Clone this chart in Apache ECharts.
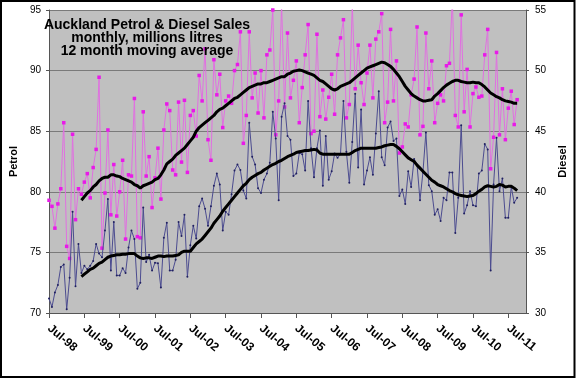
<!DOCTYPE html>
<html>
<head>
<meta charset="utf-8">
<script src="https://cdn.jsdelivr.net/npm/echarts@6/dist/echarts.min.js"></script>
<style>
html,body{margin:0;padding:0;background:#fff;}
#chart{width:576px;height:379px;}
</style>
</head>
<body>
<div id="chart"></div>
<script>
// Month categories Jul-98 ... (monthly); tick labels shown every July
const monthNames = ['Jul','Aug','Sep','Oct','Nov','Dec','Jan','Feb','Mar','Apr','May','Jun'];
const xTickLabels = ['Jul-98','Jul-99','Jul-00','Jul-01','Jul-02','Jul-03','Jul-04','Jul-05','Jul-06','Jul-07','Jul-08','Jul-09','Jul-10','Jul-11'];
const categoryCount = 163;

// Petrol, monthly, millions litres (left axis)
const petrol = [79.3,78.8,77.0,79.0,80.25,85.7,75.5,74.5,84.75,77.7,80.25,79.8,80.8,81.5,79.5,82.0,83.5,89.45,75.35,79.9,
85.1,78.1,82.25,78.0,80.0,82.6,76.1,81.4,81.3,87.7,76.3,76.2,86.6,81.3,82.9,78.7,81.15,83.6,79.4,85.1,
87.25,86.7,81.8,81.4,87.4,82.45,87.55,81.6,86.3,86.7,84.6,89.6,87.5,91.8,84.3,82.6,90.9,
88.0,89.7,85.3,87.5,87.9,87.3,90.0,90.5,93.2,84.0,86.3,93.2,87.75,89.8,86.5,90.0,86.1,91.3,91.7,95.0,
84.7,87.5,95.5,87.0,93.1,87.75,89.2,90.8,85.7,88.6,91.3,93.8,84.8,85.0,93.0,86.2,88.4,86.0,87.8,89.7,
86.4,91.3,92.7,94.2,86.1,87.2,95.5,88.5,92.1,89.0,
87.2,89.8,92.1,87.75,92.6,93.2,94.7,85.7,87.4,93.4,87.5,90.8,83.2,83.7,85.6,85.35,88.0,89.3,93.6,84.7,
85.4,93.1,88.5,90.8,85.7,87.3,88.0,87.5,90.4,90.6,96.0,86.3,85.35,94.6,86.6,90.1,85.35,88.1,88.65,87.8,
87.9,91.3,93.4,81.9,84.5,91.5,84.7,88.5,84.3,86.9,88.3,85.55,87.6];

// Diesel, monthly, millions litres (right axis)
const diesel = [31.2,30.5,31.7,32.3,33.8,34.0,30.3,32.9,38.35,32.2,35.7,33.3,33.9,33.6,33.9,34.3,35.7,34.9,34.6,36.8,
39.4,33.5,37.5,33.1,33.1,33.7,33.3,35.4,36.8,36.1,32.0,32.5,38.7,34.2,34.8,33.5,34.15,34.1,32.1,36.2,
37.45,33.5,33.5,34.4,37.5,36.35,38.1,33.0,35.6,37.2,36.15,38.8,39.45,38.6,37.2,38.8,40.5,
41.5,40.6,36.8,38.35,38.1,39.8,41.75,42.25,41.8,40.1,39.45,45.7,42.9,42.25,40.3,39.9,41.0,41.5,42.4,46.6,
44.4,39.3,46.2,47.3,44.6,44.3,41.3,41.5,43.2,43.1,41.75,47.5,43.6,41.2,43.6,45.05,40.5,44.6,41.0,41.7,
43.15,42.8,43.1,47.5,43.3,40.75,44.1,48.1,42.0,46.8,40.6,41.75,42.85,41.4,
44.8,48.3,42.85,42.2,45.3,45.8,44.2,44.4,39.65,40.2,39.0,41.7,40.4,42.7,42.25,39.3,41.6,44.9,40.55,40.05,
38.1,38.55,37.6,39.5,39.3,41.6,41.6,36.6,39.5,45.5,38.2,38.9,40.05,38.9,38.8,41.5,41.75,43.95,43.5,33.5,
40.6,44.45,40.05,41.1,37.85,37.85,40.4,39.1,39.5];

// 12 month moving averages (from month 12 onward)
const maStart = 11;
const petrolMAValues = [79.3,79.6,79.9,80.1,80.4,80.6,80.9,81.1,81.2,81.2,
81.4,81.4,81.3,81.25,81.1,81.0,80.9,80.8,80.6,80.5,
80.3,80.5,80.6,80.7,80.8,81.0,81.1,81.4,81.8,82.3,
82.5,82.7,83.0,83.2,83.4,83.6,83.9,84.2,84.5,85.0,
85.3,85.5,85.7,85.9,86.1,86.3,86.6,86.8,86.9,87.1,
87.3,87.5,87.7,87.8,88.0,88.2,88.4,88.6,88.7,88.8,
88.9,88.9,89.0,89.0,89.1,89.2,89.3,89.4,89.5,89.5,
89.7,89.8,89.95,90.0,90.05,90.0,89.9,89.8,89.7,89.6,
89.4,89.2,89.1,88.9,88.7,88.5,88.4,88.5,88.7,88.8,
88.9,89.0,89.2,89.4,89.6,89.8,90.0,90.2,90.3,90.4,
90.5,90.6,90.7,90.65,90.5,90.35,90.1,89.8,89.5,89.1,
88.7,88.4,88.1,87.9,87.75,87.6,87.5,87.5,87.55,87.6,
87.9,88.1,88.35,88.6,88.8,88.95,89.1,89.2,89.2,89.1,
89.05,89.0,89.0,89.05,89.0,89.0,88.85,88.65,88.4,88.15,
88.0,87.85,87.75,87.6,87.5,87.45,87.4,87.3,87.3];
const dieselMAValues = [33.0,33.2,33.4,33.6,33.7,33.9,34.1,34.2,34.4,34.6,
34.7,34.75,34.8,34.8,34.85,34.85,34.9,34.9,34.9,34.7,
34.55,34.5,34.55,34.55,34.5,34.6,34.7,34.7,34.65,34.7,
34.7,34.7,34.75,34.8,35.0,35.1,35.1,35.1,35.4,35.7,
35.9,36.1,36.4,36.7,37.0,37.4,37.7,38.0,38.4,38.7,
39.0,39.3,39.6,39.9,40.2,40.5,40.7,41.0,41.2,41.35,
41.5,41.6,41.8,41.95,42.1,42.25,42.35,42.5,42.6,42.75,
42.9,43.0,43.1,43.25,43.3,43.35,43.4,43.4,43.45,43.5,
43.45,43.2,43.1,43.1,43.1,43.1,43.1,43.1,43.1,43.1,
43.1,43.1,43.25,43.4,43.5,43.6,43.6,43.6,43.6,43.6,
43.6,43.65,43.7,43.8,43.85,43.9,43.9,43.75,43.55,43.3,
43.05,42.8,42.65,42.5,42.2,41.95,41.7,41.45,41.2,40.95,
40.8,40.6,40.5,40.4,40.25,40.1,40.0,39.85,39.75,39.7,
39.65,39.6,39.65,39.7,39.85,40.05,40.2,40.4,40.5,40.45,
40.4,40.45,40.6,40.55,40.4,40.45,40.45,40.3,40.1];

const titleLines = ['Auckland Petrol & Diesel Sales','monthly, millions litres','12 month moving average'];

// ---- build ----
const categories = [];
for (let i = 0; i < categoryCount; i++) {
  const yr = 1998 + Math.floor((i + 6) / 12);
  categories.push(monthNames[i % 12] + '-' + String(yr % 100).padStart(2, '0'));
}
const petrolMA = new Array(maStart).fill(null).concat(petrolMAValues);
const dieselMA = new Array(maStart).fill(null).concat(dieselMAValues);
const showTick = (idx, val) => xTickLabels.indexOf(categories[idx]) >= 0;

const FONT = 'Arial, "Liberation Sans", sans-serif';
const chart = echarts.init(document.getElementById('chart'), null, {renderer: 'canvas'});
chart.setOption({
  animation: false,
  backgroundColor: '#ffffff',
  grid: {left: 23, right: 44, top: 10, bottom: 66, show: true, backgroundColor: '#C0C0C0', borderWidth: 0},
  graphic: [
    {type: 'rect', shape: {x: 1, y: 1, width: 573.5, height: 376}, style: {fill: 'none', stroke: '#000', lineWidth: 2}, z: 100},
    {type: 'text', x: 147, y: 25, style: {text: titleLines[0], font: 'bold 14px ' + FONT, fill: '#000', textAlign: 'center', textVerticalAlign: 'middle'}, z: 50},
    {type: 'text', x: 147, y: 38.3, style: {text: titleLines[1], font: 'bold 14px ' + FONT, fill: '#000', textAlign: 'center', textVerticalAlign: 'middle'}, z: 50},
    {type: 'text', x: 147, y: 51.6, style: {text: titleLines[2], font: 'bold 14px ' + FONT, fill: '#000', textAlign: 'center', textVerticalAlign: 'middle'}, z: 50}
  ],
  xAxis: {
    type: 'category', data: categories, boundaryGap: false,
    axisLine: {lineStyle: {color: '#555', width: 1}},
    axisTick: {show: true, interval: showTick, length: 5, lineStyle: {color: '#555'}},
    axisLabel: {interval: showTick, rotate: -40, margin: 14, fontFamily: FONT, fontSize: 12, fontWeight: 'bold', color: '#000'},
    splitLine: {show: false}
  },
  yAxis: [
    {
      type: 'value', min: 70, max: 95, interval: 5, position: 'left',
      name: 'Petrol', nameLocation: 'middle', nameGap: 6, nameRotate: 90,
      nameTextStyle: {fontFamily: FONT, fontSize: 11, fontWeight: 'bold', color: '#000'},
      axisLine: {show: true, lineStyle: {color: '#555'}},
      axisTick: {show: true, length: 3, lineStyle: {color: '#555'}},
      axisLabel: {fontFamily: FONT, fontSize: 10, color: '#000', margin: 8},
      splitLine: {show: true, lineStyle: {color: '#7a7a7a', width: 1}}
    },
    {
      type: 'value', min: 30, max: 55, interval: 5, position: 'right',
      name: 'Diesel', nameLocation: 'middle', nameGap: 5, nameRotate: 90,
      nameTextStyle: {fontFamily: FONT, fontSize: 11, fontWeight: 'bold', color: '#000'},
      axisLine: {show: true, lineStyle: {color: '#555'}},
      axisTick: {show: true, length: 3, lineStyle: {color: '#555'}},
      axisLabel: {fontFamily: FONT, fontSize: 10, color: '#000', margin: 9},
      splitLine: {show: false}
    }
  ],
  series: [
    {name: 'Petrol', type: 'line', yAxisIndex: 0, data: petrol, symbol: 'rect', symbolSize: 3.5,
     showSymbol: true, showAllSymbol: true,
     itemStyle: {color: '#E81AE8'}, lineStyle: {color: '#E070E0', width: 1}, z: 2},
    {name: 'Diesel', type: 'line', yAxisIndex: 1, data: diesel, symbol: 'circle', symbolSize: 2,
     showSymbol: true, showAllSymbol: true,
     itemStyle: {color: '#202060'}, lineStyle: {color: '#4C4C90', width: 1}, z: 3},
    {name: 'Petrol MA', type: 'line', yAxisIndex: 0, data: petrolMA, showSymbol: false, symbol: 'none',
     lineStyle: {color: '#000', width: 3}, z: 4},
    {name: 'Diesel MA', type: 'line', yAxisIndex: 1, data: dieselMA, showSymbol: false, symbol: 'none',
     lineStyle: {color: '#000', width: 3}, z: 4}
  ]
});
</script>
</body>
</html>
